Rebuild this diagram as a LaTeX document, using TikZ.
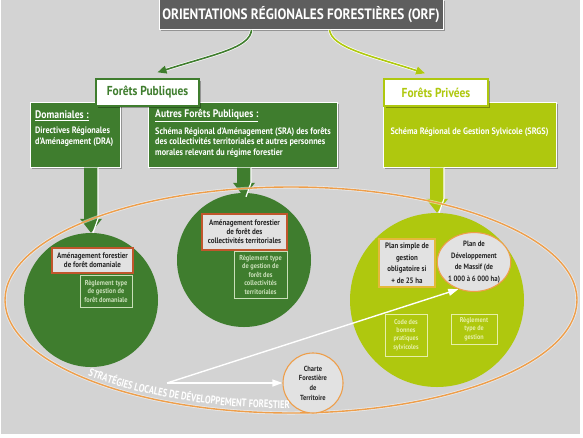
\documentclass[tikz,border=0pt]{standalone}
\usepackage{fontspec}
\setmainfont{PT Sans}[FakeStretch=0.88]
\newfontfamily\curvefont{PT Sans}[FakeStretch=0.78]
\usetikzlibrary{arrows.meta,shadows,decorations.text,calc,shapes.geometric}
\definecolor{dg}{HTML}{3F7D2E}
\definecolor{lg}{HTML}{AFC80E}
\definecolor{bgc}{HTML}{D3D3D3}
\definecolor{tg}{HTML}{5E5E5E}
\definecolor{og}{HTML}{EE9E4A}
\definecolor{rb}{HTML}{C0562C}
\definecolor{ylw}{HTML}{E4B83A}
\definecolor{pale}{HTML}{E2E2E2}
\definecolor{pgt}{HTML}{C9DFB9}
\definecolor{plt}{HTML}{E6EFA8}
\newcommand{\fsz}[2]{\fontsize{#1}{#2}\selectfont}
\newcommand{\bigarr}[3]{%
 \fill[#1] ($(#2)+(-7,0)$) -- ($(#3)+(-7,-14)$) -- ($(#3)+(-11,-14)$) -- (#3) -- ($(#3)+(11,-14)$) -- ($(#3)+(7,-14)$) -- ($(#2)+(7,0)$) -- cycle;
 \draw[white,line width=1.2pt] ($(#2)+(7,0)$) -- ($(#3)+(7,-14)$) -- ($(#3)+(2,0)$);}
\begin{document}
\begin{tikzpicture}[x=1pt,y=-1pt,font=\bfseries,
  shad/.style={drop shadow={shadow xshift=1.5pt,shadow yshift=-1.5pt,opacity=.3,fill=black}},
  gbox/.style={shad,draw=white,line width=1pt,inner sep=0pt,minimum height=65pt},
  labbox/.style={shad,fill=white,line width=1.3pt,minimum height=27pt,inner sep=0pt},
  ibox/.style={fill=pale,line width=1.1pt,align=center,text=black!85,inner sep=1pt},
  obox/.style={draw=#1,line width=.6pt,text=#1,align=center,inner sep=1pt},
  circ/.style={circle,inner sep=0pt,minimum size=#1},
  txt/.style={inner sep=0pt,align=left,text=white},
  thinarrow/.style={line width=1.6pt,-{Triangle[length=9pt,width=8pt]},preaction={draw=white,line width=3pt}},
  whtarrow/.style={white,line width=1.4pt,-{Triangle[length=10pt,width=7pt]}}
]
\useasboundingbox (0,0) rectangle (583,437);
\fill[white] (0,0) rectangle (583,437);
\fill[bgc] (1,0) rectangle (580,434);

% title
\node[shad,fill=tg,draw=white,line width=1pt,minimum width=284pt,minimum height=30pt,inner sep=0pt,text=white,font=\bfseries\fsz{15}{15}] (orf) at (301,14.5) {ORIENTATIONS RÉGIONALES FORESTIÈRES (ORF)};

% green boxes
\node[gbox,fill=dg,minimum width=90pt] (dom) at (75,134.5) {};
\node[gbox,fill=dg,minimum width=189pt] (aut) at (242.5,134.5) {};
\node[gbox,fill=lg,minimum width=173pt] (srgs) at (469.5,134.5) {};

\node[txt,anchor=west,font=\bfseries\fsz{11}{12}] (domh) at (35,115.5) {\underline{Domaniales :}};
\node[txt,anchor=north west,font=\bfseries\fsz{9.3}{10.5}] (domt) at (35,127) {Directives Régionales\\d'Aménagement (DRA)};
\node[txt,anchor=west,font=\bfseries\fsz{11}{12}] (auth) at (155,115.5) {\underline{Autres Forêts Publiques :}};
\node[txt,anchor=north west,font=\bfseries\fsz{9.3}{10.5}] (autt) at (155,127) {Schéma Régional d'Aménagement (SRA) des forêts\\des collectivités territoriales et autres personnes\\morales relevant du régime forestier};
\node[txt,font=\bfseries\fsz{9.3}{10.5}] (srgst) at (469.5,132) {Schéma Régional de Gestion Sylvicole (SRGS)};

% label boxes
\node[labbox,draw=dg,text=dg,minimum width=103pt,font=\bfseries\fsz{13}{13}] (fp) at (147.5,92.5) {Forêts Publiques};
\node[labbox,draw=lg,text=lg,minimum width=104pt,font=\bfseries\fsz{13}{13}] (fpv) at (436,92.5) {Forêts Privées};

% top arrows
\draw[thinarrow,dg] ($(orf.south west)+(93,0)$) .. controls (250,48) and (215,54) .. ($(fp.north)+(10,-6)$);
\draw[thinarrow,lg] ($(orf.south west)+(171,0)$) .. controls (332,48) and (372,56) .. ($(fpv.north)+(-11,-5)$);

% circles
\node[circ=134pt,fill=dg] (dcirc) at (91,300) {};
\node[circ=134pt,fill=dg] (ccirc) at (244,260) {};
\node[circ=174pt,fill=lg] (pcirc) at (437,300) {};

% big arrows
\coordinate (da) at (dcirc.north |- dom.south);
\coordinate (ca) at (ccirc.north |- aut.south);
\coordinate (pa) at (pcirc.north |- srgs.south);
\coordinate (ct) at ($(ccirc.north)+(0,4)$);
\bigarr{dg}{da}{dcirc.north}
\bigarr{dg}{ca}{ct}
\bigarr{lg}{pa}{pcirc.north}

% orange ellipse
\draw[og,line width=1.4pt,preaction={draw=white,line width=3pt,opacity=.5}] (291,300) ellipse [x radius=286pt,y radius=113pt];

% inner boxes
\node[ibox,draw=rb,minimum width=81pt,minimum height=25pt,font=\bfseries\fsz{8}{9}] (amd) at (92.5,260.5) {Aménagement forestier\\de forêt domaniale};
\node[obox=pgt,minimum width=52pt,minimum height=32pt,font=\bfseries\fsz{7.2}{8.5}] (regd) at (106,291) {Règlement type\\de gestion de\\forêt domaniale};
\node[ibox,draw=rb,minimum width=85pt,minimum height=36pt,font=\bfseries\fsz{8}{9}] (amc) at (244.5,232) {Aménagement forestier\\de forêt des\\collectivités territoriales};
\node[obox=pgt,minimum width=53pt,minimum height=47pt,font=\bfseries\fsz{7.2}{8.5}] (regc) at (260.5,274.5) {Règlement type\\de gestion de\\forêt des\\collectivités\\territoriales};
\node[ibox,draw=ylw,minimum width=56pt,minimum height=48pt,font=\bfseries\fsz{7.9}{11.5}] (psg) at (407,263) {Plan simple de\\gestion\\obligatoire si\\+ de 25 ha};
\node[ibox,ellipse,draw=og,minimum width=72pt,minimum height=56pt,inner sep=0pt,font=\bfseries\fsz{7.7}{11.5}] (pdm) at (474,262) {Plan de\\Développement\\de Massif (de\\1 000 à 6 000 ha)};
\node[obox=plt,minimum width=42pt,minimum height=42pt,font=\bfseries\fsz{7}{8.3}] (code) at (406,335) {Code des\\bonnes\\pratiques\\sylvicoles};
\node[obox=plt,minimum width=46pt,minimum height=30pt,font=\bfseries\fsz{7}{8.3}] (regp) at (474,329) {Règlement\\type de\\gestion};

% charte
\node[ibox,circle,draw=og,minimum size=60pt,inner sep=0pt,font=\bfseries\fsz{7.4}{9.7}] (charte) at (313,383) {Charte\\Forestière\\de\\Territoire};

% white arrows
\coordinate (src) at (167,383);
\draw[whtarrow] (src) -- (charte.west);
\draw[whtarrow] (src) -- (pdm.240);

% curved text
\path[decorate,decoration={text along path,text align=left,text color=white,
  text={|\curvefont\bfseries\fsz{11}{11}|STRATÉGIES LOCALES DE DÉVELOPPEMENT FORESTIER}}]
  (88,375.6) arc[start angle=224.2,end angle=280,x radius=283pt,y radius=108.5pt];
\end{tikzpicture}
\end{document}
